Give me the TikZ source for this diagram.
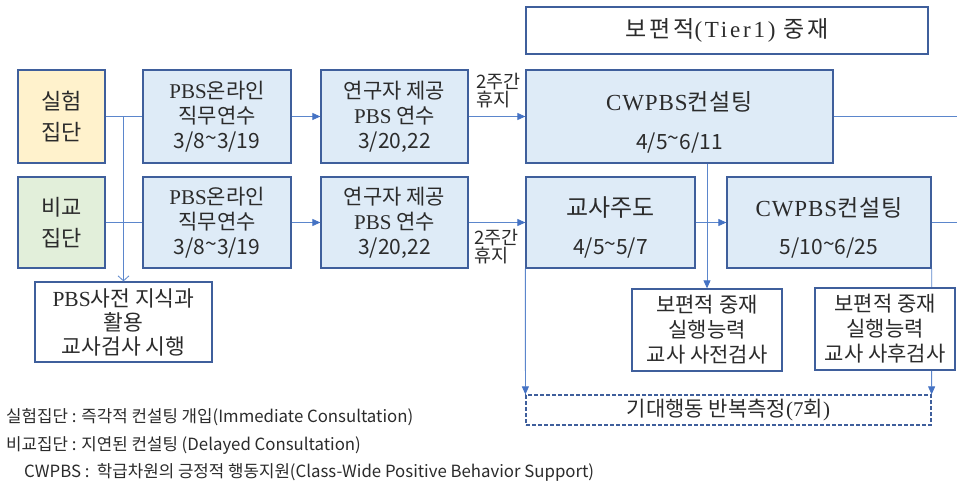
\documentclass[tikz,border=0pt]{standalone}
\usepackage{fontspec}
\setmainfont{Noto Sans CJK KR}
\newfontfamily\lat{Liberation Serif}
\usetikzlibrary{arrows.meta}
\definecolor{bord}{HTML}{3F5F9C}
\definecolor{lin}{HTML}{5B86CC}
\definecolor{arr}{HTML}{4472C4}
\definecolor{fillb}{HTML}{DEEBF7}
\definecolor{filly}{HTML}{FFF2CC}
\definecolor{fillg}{HTML}{E2EFDA}
\definecolor{txt}{HTML}{2B2B2B}
\newcommand\tld{\raisebox{0.15em}{\textasciitilde}}
\newcommand\wide{\addfontfeature{LetterSpace=12}}
\tikzset{
  box/.style={draw=bord, line width=1.3pt, fill=fillb, inner sep=0pt, align=center, text=txt,
    font=\fontsize{21}{25}\selectfont},
  wbox/.style={box, fill=white},
  conn/.style={draw=lin, line width=0.8pt},
  farr/.style={conn, -{Triangle[length=8pt,width=7pt,color=arr]}},
  oarr/.style={conn, -{Straight Barb[length=5pt,width=11pt]}},
  lbl/.style={inner sep=0pt, align=left, text=txt, font=\fontsize{18.5}{18}\selectfont},
  note/.style={inner sep=0pt, anchor=west, text=txt, font=\fontsize{16.8}{20}\selectfont}
}
\begin{document}
\begin{tikzpicture}[x=1pt,y=-1pt]
\useasboundingbox[fill=white] (0,0) rectangle (957,486);
% boxes
\node[box, fill=filly, minimum width=87pt, minimum height=93pt, font=\fontsize{22}{31}\selectfont] (exp) at (61.5,116.5) {실험\\집단};
\node[box, fill=fillg, minimum width=87pt, minimum height=91pt, font=\fontsize{22}{31}\selectfont] (cmp) at (61.5,222.5) {비교\\집단};
\node[box, minimum width=148pt, minimum height=93pt] (on1) at (217,116.5) {{\lat PBS}온라인\\직무연수\\3/8\tld3/19};
\node[box, minimum width=148pt, minimum height=91pt] (on2) at (217,222.5) {{\lat PBS}온라인\\직무연수\\3/8\tld3/19};
\node[box, minimum width=147pt, minimum height=93pt] (re1) at (394.5,116.5) {연구자 제공\\{\lat PBS} 연수\\3/20,22};
\node[box, minimum width=147pt, minimum height=91pt] (re2) at (394.5,222.5) {연구자 제공\\{\lat PBS} 연수\\3/20,22};
\node[wbox, minimum width=402pt, minimum height=47pt, font=\fontsize{23}{25}\selectfont] (tier) at (727,30.5) {\wide 보편적{\lat\wide (Tier1)} 중재};
\node[box, minimum width=307pt, minimum height=93pt, font=\fontsize{23}{39}\selectfont] (cw1) at (679.5,116.5) {\rule{0pt}{30pt}{\lat\addfontfeature{LetterSpace=4}CWPBS}\addfontfeature{LetterSpace=4}컨설팅\\{\fontsize{21}{21}\selectfont 4/5\tld6/11}};
\node[box, minimum width=169pt, minimum height=91pt, font=\fontsize{24}{38}\selectfont] (tl) at (610.5,222.5) {\rule{0pt}{30pt}교사주도\\{\fontsize{21}{21}\selectfont 4/5\tld5/7}};
\node[box, minimum width=204pt, minimum height=91pt, font=\fontsize{23}{38}\selectfont] (cw2) at (829,222.5) {\rule{0pt}{30pt}{\lat\addfontfeature{LetterSpace=4}CWPBS}\addfontfeature{LetterSpace=4}컨설팅\\{\fontsize{21}{21}\selectfont 5/10\tld6/25}};
\node[wbox, minimum width=177pt, minimum height=80pt, font=\fontsize{21.5}{24}\selectfont] (pre) at (123.5,322) {{\lat PBS}사전 지식과\\활용\\교사검사 시행};
\node[wbox, minimum width=150pt, minimum height=82pt, font=\fontsize{21}{25}\selectfont] (pt1) at (707,330) {보편적 중재\\실행능력\\교사 사전검사};
\node[wbox, draw=bord, dash pattern=on 4pt off 2pt, line width=1.2pt, minimum width=405pt, minimum height=30pt, font=\fontsize{21}{22}\selectfont] (rep) at (728.5,410) {기대행동 반복측정{\lat (7}회{\lat )}};
\coordinate (edge1) at (957,116.5);
\coordinate (edge2) at (957,222.5);
% connectors
\draw[conn] (exp.east) -- (on1.west);
\draw[conn] (cmp.east) -- (on2.west);
\draw[oarr] (exp.east -| pre.north) -- (pre.north);
\draw[farr] (on1.east) -- (re1.west);
\draw[farr] (on2.east) -- (re2.west);
\draw[farr] (re1.east) -- (cw1.west);
\draw[farr] (re2.east) -- (tl.west);
\draw[farr] (tl.east) -- (cw2.west);
\draw[conn] (cw1.east) -- (edge1);
\draw[conn] (cw2.east) -- (edge2);
\draw[farr] (pt1.north |- cw1.south) -- (pt1.north);
\draw[farr] (tl.south west) -- (rep.north west);
\draw[farr] (cw2.south east) -- (rep.north east);
\node[wbox, minimum width=140pt, minimum height=82pt, font=\fontsize{21}{25}\selectfont] (pt2) at (885,329) {보편적 중재\\실행능력\\교사 사후검사};
% labels
\node[lbl, anchor=west] (g1) at (476,91) {2주간\\휴지};
\node[lbl, anchor=west] (g2) at (474,246.5) {2주간\\휴지};
% notes
\node[note] (n1) at (6,417) {실험집단 : 즉각적 컨설팅 개입(Immediate Consultation)};
\node[note] (n2) at (6,446) {비교집단 : 지연된 컨설팅 (Delayed Consultation)};
\node[note] (n3) at (24,472) {CWPBS :\ \ 학급차원의 긍정적 행동지원(Class-Wide Positive Behavior Support)};
\end{tikzpicture}
\end{document}
